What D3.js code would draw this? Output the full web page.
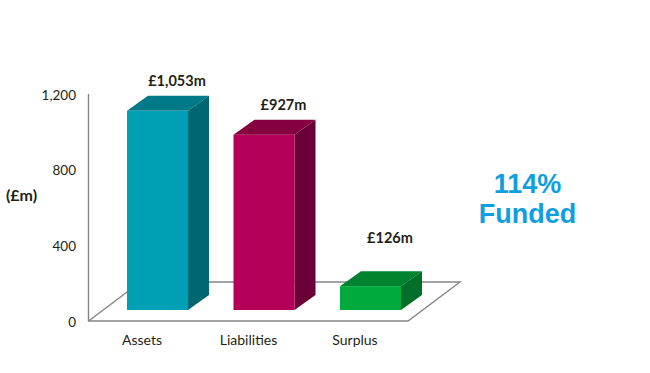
<!DOCTYPE html>
<html>
<head>
<meta charset="utf-8">
<script src="https://cdn.jsdelivr.net/npm/d3@7"></script>
<style>
  html, body { margin: 0; padding: 0; background: #fff; }
  svg { display: block; }
  text { font-family: Lato, "Open Sans", sans-serif; fill: #231f14; }
</style>
</head>
<body>
<div id="chart"></div>
<script>
const categories = ['Assets', 'Liabilities', 'Surplus'];
const values = [1053, 927, 126];
const valueLabels = ['£1,053m', '£927m', '£126m'];
const tickValues = [0, 400, 800, 1200];
const frontColors = ['#00a0b4', '#b40059', '#00aa3c'];
const topColors = ['#007a88', '#85003f', '#00822f'];
const sideColors = ['#006672', '#6b0039', '#006f27'];

const width = 650;
const height = 373;
const axisX = 88.5;
const floorFront = 321;
const floorBack = 282;
const floorDx = 52;
const floorRight = 408;
// bars stand a little in front of the back edge of the floor
const barBase = 310;
const depthX = 21;
const depthY = 15;

const svg = d3.select('#chart').append('svg')
  .attr('width', width)
  .attr('height', height)
  .attr('viewBox', `0 0 ${width} ${height}`);

const y = d3.scaleLinear().domain([0, 1200]).range([floorFront, 94]);
const barH = (v) => y(0) - y(v);
const x = d3.scaleBand().domain(categories).range([127, 401]).paddingInner(0.427);

// value axis, then the floor outline
svg.append('path')
  .attr('d', `M${axisX},${y(1200)}V${floorFront}H${floorRight}L${floorRight + floorDx},${floorBack}H${axisX + floorDx}L${axisX},${floorFront}`)
  .attr('fill', 'none')
  .attr('stroke', '#858585')
  .attr('stroke-width', 1.4);

svg.append('g').selectAll('text')
  .data(tickValues)
  .join('text')
  .attr('x', 76)
  .attr('y', (d) => y(d) + 1)
  .attr('dy', '0.35em')
  .attr('text-anchor', 'end')
  .attr('font-size', 13.5)
  .text((d) => d3.format(',')(d));

svg.append('text')
  .attr('x', 21.5)
  .attr('y', 195)
  .attr('dy', '0.35em')
  .attr('text-anchor', 'middle')
  .attr('font-size', 16)
  .attr('font-weight', 700)
  .text('(£m)');

// 3D bars: front, top and side faces
const bars = svg.append('g').selectAll('g')
  .data(categories)
  .join('g');

bars.append('path')
  .attr('fill', (d, i) => topColors[i])
  .attr('d', (d, i) => {
    const x0 = x(d), x1 = x0 + x.bandwidth(), t = barBase - barH(values[i]);
    return `M${x0},${t}L${x0 + depthX},${t - depthY}H${x1 + depthX}L${x1},${t}Z`;
  });

bars.append('path')
  .attr('fill', (d, i) => sideColors[i])
  .attr('d', (d, i) => {
    const x1 = x(d) + x.bandwidth(), t = barBase - barH(values[i]);
    return `M${x1},${t}L${x1 + depthX},${t - depthY}V${barBase - depthY}L${x1},${barBase}Z`;
  });

bars.append('rect')
  .attr('x', (d) => x(d))
  .attr('y', (d, i) => barBase - barH(values[i]))
  .attr('width', x.bandwidth())
  .attr('height', (d, i) => barH(values[i]))
  .attr('fill', (d, i) => frontColors[i]);

bars.append('text')
  .attr('x', (d) => x(d) + x.bandwidth() / 2 + 19.5)
  .attr('y', (d, i) => [81, 105, 237.5][i])
  .attr('dy', '0.35em')
  .attr('text-anchor', 'middle')
  .attr('font-size', 14.5)
  .attr('font-weight', 700)
  .text((d, i) => valueLabels[i]);

bars.append('text')
  .attr('x', (d) => x(d) + x.bandwidth() / 2 - 15.5)
  .attr('y', 340)
  .attr('dy', '0.35em')
  .attr('text-anchor', 'middle')
  .attr('font-size', 14)
  .text((d) => d);

// funded callout
const callout = svg.append('text')
  .attr('text-anchor', 'middle')
  .attr('font-size', 27)
  .attr('font-weight', 700)
  .style('font-family', '"Liberation Sans", Arial, sans-serif')
  .style('fill', '#0f9fe0');
callout.append('tspan').attr('x', 527.5).attr('y', 193).text('114%');
callout.append('tspan').attr('x', 527.5).attr('y', 223).text('Funded');
</script>
</body>
</html>
